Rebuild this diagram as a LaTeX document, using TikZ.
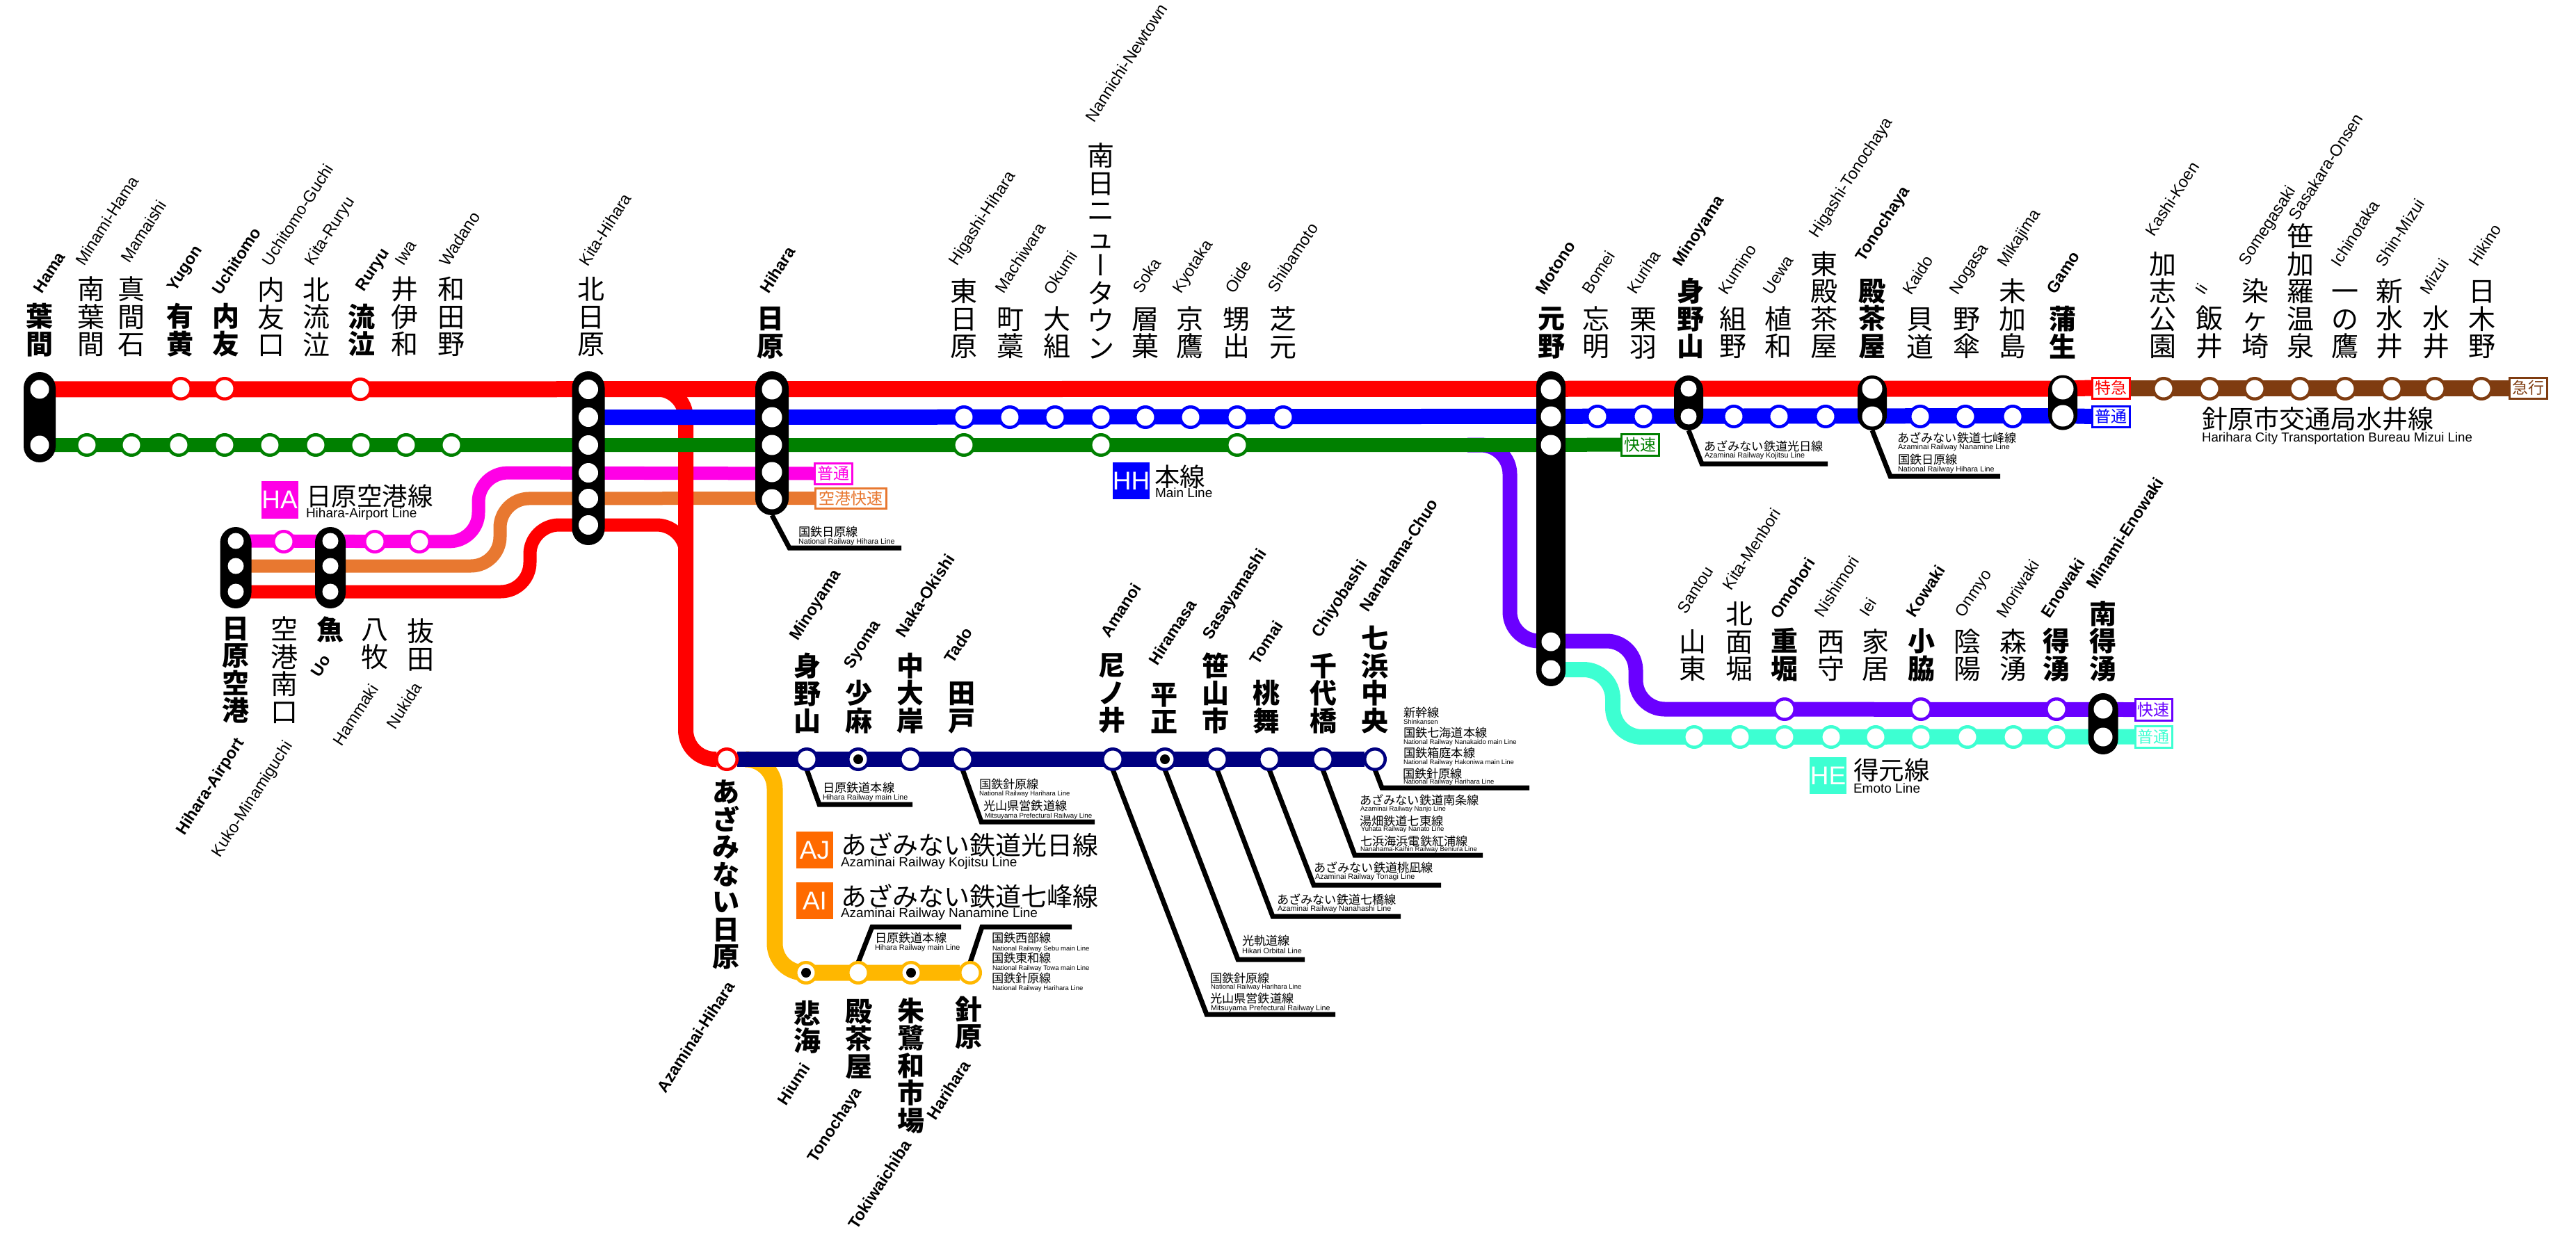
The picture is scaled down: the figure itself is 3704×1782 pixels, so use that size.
\documentclass[tikz,border=0pt]{standalone}
\usepackage{fontspec}
\setmainfont{Liberation Sans}
\newfontfamily\cjk{Noto Sans CJK JP}
\newfontface\cjkv[RawFeature={+vert}]{Noto Sans CJK JP}
\usetikzlibrary{backgrounds}
\definecolor{cred}{HTML}{FF0000}
\definecolor{cblue}{HTML}{0000FF}
\definecolor{cgreen}{HTML}{008000}
\definecolor{cmag}{HTML}{FF00E6}
\definecolor{corange}{HTML}{E87830}
\definecolor{cnavy}{HTML}{000080}
\definecolor{cyel}{HTML}{FFB700}
\definecolor{cbrown}{HTML}{7F3C10}
\definecolor{cpur}{HTML}{6A00FF}
\definecolor{cteal}{HTML}{3DFFD2}
\definecolor{corg}{HTML}{FF6A00}
\tikzset{
  rl/.style={line width=#1,line join=round},
  bendy/.style={rounded corners=42pt},
  ringn/.style={circle,fill=white,line width=4.5pt,minimum size=29.5pt,inner sep=0pt,outer sep=0pt},
  hole/.style={circle,fill=white,minimum size=#1,inner sep=0pt,outer sep=0pt},
  dotn/.style={circle,fill=black,minimum size=14pt,inner sep=0pt},
  pill/.style={fill=black,inner sep=0pt,outer sep=0pt},
  kana/.style={inner sep=0pt,outer sep=0pt,align=center,font=\cjk\fontsize{39}{39.5}\selectfont},
  kanab/.style={inner sep=0pt,outer sep=0pt,align=center,font=\cjk\bfseries\fontsize{39}{39.5}\selectfont},
  ename/.style={inner sep=0pt,outer sep=0pt,rotate=57,anchor=base west,font=\fontsize{23.5}{24}\selectfont},
  enameb/.style={inner sep=0pt,outer sep=0pt,rotate=57,anchor=base west,font=\bfseries\fontsize{23.5}{24}\selectfont},
  lab/.style={inner sep=0pt,outer sep=0pt,anchor=base west},
  kbox/.style={draw=#1,text=#1,fill=white,line width=3pt,inner sep=0pt,outer sep=0pt,font=\cjk\fontsize{23}{23}\selectfont},
  lbox/.style={fill=#1,text=white,minimum width=53pt,inner sep=0pt,outer sep=0pt,font=\fontsize{37}{37}\selectfont},
  leaderl/.style={line width=7pt,line join=miter}
}
\newcommand{\ks}[5]{\node[kana,anchor=#4] (k#1) at (#2,#3) {#5};}
\newcommand{\kb}[5]{\node[kanab,anchor=#4] (k#1) at (#2,#3) {#5};}
\newcommand{\es}[4]{\node[ename] (e#1) at (#2,#3) {#4};}
\newcommand{\eb}[4]{\node[enameb] (e#1) at (#2,#3) {#4};}
\newcommand{\rg}[4]{\node[ringn,draw=#4] (#1) at (#2,#3) {};}
\newcommand{\ho}[4]{\node[hole=#4] (#1) at (#2,#3) {};}
\newcommand{\pl}[6]{\node[pill,rounded corners=#6,minimum width=#4,minimum height=#5] (#1) at (#2,#3) {};}
\newcommand{\jl}[5]{\node[lab,font=\cjk\fontsize{#4}{#4}\selectfont] (#1) at (#2,#3) {#5};}
\newcommand{\el}[5]{\node[lab,font=\fontsize{#4}{#4}\selectfont] (#1) at (#2,#3) {#5};}
\newcommand{\ldr}[6]{\coordinate (#2a) at (#3,#4); \coordinate (#2b) at (#5,#4);
  \begin{pgfonlayer}{background}\draw[leaderl] (#1) -- (#6) -- (#2a) -- (#2b);\end{pgfonlayer}}
\begin{document}
\begin{tikzpicture}[x=1pt,y=-1pt]
\useasboundingbox (0,0) rectangle (3704,1782);
\begin{pgfonlayer}{background}\fill[white] (0,0) rectangle (3704,1782);\end{pgfonlayer}

% interchange pills
\pl{phama}{57}{600}{46pt}{130pt}{23pt}
\ho{hama1}{57}{560}{27pt}\ho{hama2}{57}{640}{27pt}
\pl{pkita}{846}{659}{47pt}{250pt}{23.5pt}
\ho{kita1}{846}{560}{28pt}\ho{kita2}{846}{600}{28pt}\ho{kita3}{846}{640}{28pt}\ho{kita4}{846}{680}{28pt}\ho{kita5}{846}{717}{28pt}\ho{kita6}{846}{755}{28pt}
\pl{phih}{1110}{637.5}{48pt}{207pt}{24pt}
\ho{hih1}{1110}{560}{29pt}\ho{hih2}{1110}{600}{29pt}\ho{hih3}{1110}{640}{29pt}\ho{hih4}{1110}{679}{29pt}\ho{hih5}{1110}{718}{29pt}
\pl{pair}{339}{816.5}{45pt}{117pt}{22.5pt}
\ho{air1}{339}{778}{23pt}\ho{air2}{339}{814}{23pt}\ho{air3}{339}{851}{23pt}
\pl{puo}{475}{816.5}{44pt}{117pt}{22pt}
\ho{uo1}{475}{778}{23pt}\ho{uo2}{475}{814}{23pt}\ho{uo3}{475}{851}{23pt}
\pl{pmot}{2230}{760.5}{42pt}{453pt}{21pt}
\ho{mot1}{2230}{560}{29pt}\ho{mot2}{2230}{599}{29pt}\ho{mot3}{2230}{640}{29pt}\ho{mot4}{2230}{923}{27pt}\ho{mot5}{2230}{963}{27pt}
\pl{pmin}{2428}{579.5}{42pt}{79pt}{21pt}
\ho{min1}{2428}{559}{23pt}\ho{min2}{2428}{599}{23pt}
\pl{pton}{2692}{579.5}{42pt}{79pt}{21pt}
\ho{ton1}{2692}{559}{29pt}\ho{ton2}{2692}{599}{29pt}
\pl{pgam}{2966}{579}{42pt}{79pt}{21pt}
\ho{gam1}{2966}{559}{31pt}\ho{gam2}{2966}{598}{31pt}
\pl{psou}{3024}{1041}{43pt}{88pt}{21.5pt}
\ho{sou1}{3024}{1020}{27pt}\ho{sou2}{3024}{1060}{27pt}

% rings: red
\rg{ry1}{260}{559}{cred}\rg{ry2}{323}{559}{cred}\rg{ry3}{518}{560}{cred}
% rings: green
\rg{g1}{125}{640}{cgreen}\rg{g2}{189}{640}{cgreen}\rg{g3}{257}{640}{cgreen}\rg{g4}{323}{640}{cgreen}\rg{g5}{388}{640}{cgreen}\rg{g6}{454}{640}{cgreen}\rg{g7}{519}{640}{cgreen}\rg{g8}{584}{640}{cgreen}\rg{g9}{649}{640}{cgreen}
\rg{g10}{1386}{640}{cgreen}\rg{g11}{1583}{640}{cgreen}\rg{g12}{1779}{640}{cgreen}
% rings: blue
\rg{b1}{1386}{600}{cblue}\rg{b2}{1452}{600}{cblue}\rg{b3}{1517}{600}{cblue}\rg{b4}{1583}{600}{cblue}\rg{b5}{1647}{600}{cblue}\rg{b6}{1712}{600}{cblue}\rg{b7}{1779}{600}{cblue}\rg{b8}{1845}{600}{cblue}
\rg{b9}{2297}{599}{cblue}\rg{b10}{2363}{599}{cblue}\rg{b11}{2493}{599}{cblue}\rg{b12}{2558}{599}{cblue}\rg{b13}{2625}{599}{cblue}\rg{b14}{2761}{599}{cblue}\rg{b15}{2826}{599}{cblue}\rg{b16}{2894}{599}{cblue}
% rings: magenta
\rg{m1}{408}{779}{cmag}\rg{m2}{539}{779}{cmag}\rg{m3}{603}{779}{cmag}
% rings: brown
\rg{br1}{3111}{559}{cbrown}\rg{br2}{3177}{559}{cbrown}\rg{br3}{3242}{559}{cbrown}\rg{br4}{3307}{559}{cbrown}\rg{br5}{3372}{559}{cbrown}\rg{br6}{3439}{559}{cbrown}\rg{br7}{3501}{559}{cbrown}\rg{br8}{3568}{559}{cbrown}
% rings: purple and teal
\rg{p1}{2566}{1020}{cpur}\rg{p2}{2762}{1020}{cpur}\rg{p3}{2957}{1020}{cpur}
\rg{t1}{2436}{1060}{cteal}\rg{t2}{2502}{1060}{cteal}\rg{t3}{2566}{1060}{cteal}\rg{t4}{2633}{1060}{cteal}\rg{t5}{2697}{1060}{cteal}\rg{t6}{2762}{1060}{cteal}\rg{t7}{2829}{1060}{cteal}\rg{t8}{2895}{1060}{cteal}\rg{t9}{2957}{1060}{cteal}
% rings: navy
\rg{azh}{1045}{1092}{cred}
\rg{n1}{1160}{1092}{cnavy}\rg{n2}{1234}{1092}{cnavy}\rg{n3}{1309}{1092}{cnavy}\rg{n4}{1384}{1092}{cnavy}\rg{n5}{1600}{1092}{cnavy}\rg{n6}{1675}{1092}{cnavy}\rg{n7}{1750}{1092}{cnavy}\rg{n8}{1825}{1092}{cnavy}\rg{n9}{1902}{1092}{cnavy}\rg{n10}{1977}{1092}{cnavy}
\node[dotn] (nd2) at (n2) {};\node[dotn] (nd6) at (n6) {};
% rings: yellow
\rg{y1}{1159}{1399}{cyel}\rg{y2}{1234}{1399}{cyel}\rg{y3}{1310}{1399}{cyel}\rg{y4}{1395}{1399}{cyel}
\node[dotn] (yd1) at (y1) {};\node[dotn] (yd3) at (y3) {};

% service boxes
\node[kbox=cmag,minimum width=54pt,minimum height=30pt] (bxa) at (1198,681) {普通};
\node[kbox=corange,minimum width=102pt,minimum height=29pt] (bxb) at (1223,716.5) {空港快速};
\node[kbox=cgreen,minimum width=54pt,minimum height=31pt] (bxc) at (2358,639.5) {快速};
\node[kbox=cred,minimum width=54pt,minimum height=30pt] (bxd) at (3035,558) {特急};
\node[kbox=cblue,minimum width=54pt,minimum height=30pt] (bxe) at (3035,599) {普通};
\node[kbox=cbrown,minimum width=54pt,minimum height=30pt] (bxf) at (3635,558) {急行};
\node[kbox=cpur,minimum width=53pt,minimum height=31pt] (bxg) at (3096.5,1020.5) {快速};
\node[kbox=cteal,minimum width=53pt,minimum height=31pt] (bxh) at (3096.5,1059.5) {普通};

% bend points
\coordinate (mg1) at (688,779);\coordinate (mg2) at (688,680);
\coordinate (or1) at (719,814);\coordinate (or2) at (719,717);
\coordinate (rd1) at (762,851);\coordinate (rd2) at (762,755);\coordinate (rd3) at (986,755);\coordinate (rd4) at (986,1092);\coordinate (rd5) at (986,559);\coordinate (rd6) at (986,840);
\coordinate (ye0) at (1072,1092);\coordinate (ye1) at (1114,1092);\coordinate (ye2) at (1114,1399);
\coordinate (pu0) at (2110,640);\coordinate (pu1) at (2171,640);\coordinate (pu2) at (2171,922);\coordinate (pu3) at (2352,922);\coordinate (pu4) at (2352,1020);
\coordinate (te1) at (2319,963);\coordinate (te2) at (2319,1060);

\begin{pgfonlayer}{background}
\draw[rl=23pt,cyel,bendy] (ye0) -- (ye1) -- (ye2) -- (y4);
\draw[rl=22pt,cnavy] (azh) -- (n10);
\draw[rl=19pt,cmag,bendy] (air1) -- (mg1) -- (mg2) -- (bxa.west);
\draw[rl=19pt,corange,bendy] (air2) -- (or1) -- (or2) -- (bxb.west);
\draw[rl=19pt,cred,bendy] (air3) -- (rd1) -- (rd2) -- (rd3) -- (rd6);
\draw[rl=22pt,cred,bendy] (kita1) -- (rd5) -- (rd4) -- (azh);
\draw[rl=21pt,cpur,bendy] (pu0) -- (pu1) -- (pu2) -- (pu3) -- (pu4) -- (bxg.west);
\draw[rl=22pt,cteal,bendy] (mot5) -- (te1) -- (te2) -- (bxh.west);
\draw[rl=23pt,cred] (hama1) -- (gam1) -- (bxd.west);
\draw[rl=22pt,cblue] (kita2) -- (hih2) -- (gam2) -- (bxe.west);
\draw[rl=20pt,cgreen] (hama2) -- (mot3) -- (bxc.west);
\draw[rl=23pt,cbrown] (bxd.east) -- (bxf.west);
\end{pgfonlayer}

% leaders
\coordinate (q1) at (2447,667);\ldr{pmin.south}{l1}{2447}{667}{2628}{q1}
\coordinate (q2) at (2718,685);\ldr{pton.south}{l2}{2718}{685}{2876}{q2}
\coordinate (q3) at (1135,788);\ldr{phih.south}{l3}{1135}{788}{1296}{q3}
\coordinate (q4) at (1178,1157);\ldr{n1.south}{l4}{1178}{1157}{1312}{q4}
\coordinate (q5) at (1411,1182);\ldr{n4.south}{l5}{1411}{1182}{1574}{q5}
\coordinate (q6) at (1735,1459);\ldr{n5.south}{l6}{1735}{1459}{1920}{q6}
\coordinate (q7) at (1780,1380);\ldr{n6.south}{l7}{1780}{1380}{1876}{q7}
\coordinate (q8) at (1830,1318);\ldr{n7.south}{l8}{1830}{1318}{2014}{q8}
\coordinate (q9) at (1889,1273);\ldr{n8.south}{l9}{1889}{1273}{2072}{q9}
\coordinate (q10) at (1948,1230);\ldr{n9.south}{l10}{1948}{1230}{2132}{q10}
\coordinate (q11) at (1987,1133);\ldr{n10.south}{l11}{1987}{1133}{2199}{q11}
\coordinate (q12) at (1254,1333);\ldr{y2.north}{l12}{1254}{1333}{1382}{q12}
\coordinate (q13) at (1412,1333);\ldr{y4.north}{l13}{1412}{1333}{1541}{q13}

% line titles
\node[lbox=cmag,minimum height=54pt] (ha) at (402,719) {HA};
\jl{ha1}{440}{727}{36.5}{日原空港線}\el{ha2}{440}{744}{19}{Hihara-Airport Line}
\node[lbox=cblue,minimum height=53pt] (hh) at (1626.5,691.5) {HH};
\jl{hh1}{1660}{699}{36.5}{本線}\el{hh2}{1661}{715}{19}{Main Line}
\jl{mz1}{3166}{616}{37}{針原市交通局水井線}\el{mz2}{3166}{635}{18.7}{Harihara City Transportation Bureau Mizui Line}
\node[lbox=cteal,minimum height=53pt] (he) at (2628.5,1115.5) {HE};
\jl{he1}{2665}{1121}{36.5}{得元線}\el{he2}{2665}{1140}{19}{Emoto Line}
\node[lbox=corg,minimum height=53pt] (aj) at (1171.5,1222.5) {AJ};
\jl{aj1}{1209}{1229}{37}{あざみない鉄道光日線}\el{aj2}{1209}{1246}{19}{Azaminai Railway Kojitsu Line}
\node[lbox=corg,minimum height=53pt] (ai) at (1171.5,1295.5) {AI};
\jl{ai1}{1209}{1303}{37}{あざみない鉄道七峰線}\el{ai2}{1209}{1319}{19}{Azaminai Railway Nanamine Line}

% transfer labels
\jl{x1}{2450}{648}{17.2}{あざみない鉄道光日線}\el{x2}{2451}{658}{10.8}{Azaminai Railway Kojitsu Line}
\jl{x3}{2728}{636}{17.2}{あざみない鉄道七峰線}\el{x4}{2729}{646}{10.8}{Azaminai Railway Nanamine Line}
\jl{x5}{2729}{667}{17.2}{国鉄日原線}\el{x6}{2729}{678}{10.8}{National Railway Hihara Line}
\jl{x7}{1148}{771}{17.2}{国鉄日原線}\el{x8}{1148}{782}{10.8}{National Railway Hihara Line}
\jl{x9}{1183}{1139}{17.2}{日原鉄道本線}\el{x10}{1183}{1150}{10.8}{Hihara Railway main Line}
\jl{x11}{1408}{1134}{17.2}{国鉄針原線}\el{x12}{1408}{1144}{9.5}{National Railway Harihara Line}
\jl{x13}{1414}{1165}{17.2}{光山県営鉄道線}\el{x14}{1416}{1176}{9.7}{Mitsuyama Prefectural Railway Line}
\jl{x15}{1258}{1355}{17.2}{日原鉄道本線}\el{x16}{1258}{1366}{10.8}{Hihara Railway main Line}
\jl{x17}{1426}{1355}{17.2}{国鉄西部線}\el{x18}{1427}{1367}{9.5}{National Railway Sebu main Line}
\jl{x19}{1426}{1384}{17.2}{国鉄東和線}\el{x20}{1427}{1395}{9.5}{National Railway Towa main Line}
\jl{x21}{1426}{1413}{17.2}{国鉄針原線}\el{x22}{1427}{1424}{9.5}{National Railway Harihara Line}
\jl{x23}{1740}{1413}{17.2}{国鉄針原線}\el{x24}{1741}{1422}{9.5}{National Railway Harihara Line}
\jl{x25}{1740}{1442}{17.2}{光山県営鉄道線}\el{x26}{1741}{1453}{10.8}{Mitsuyama Prefectural Railway Line}
\jl{x27}{1786}{1359}{17.2}{光軌道線}\el{x28}{1786}{1371}{10.8}{Hikari Orbital Line}
\jl{x29}{1836}{1300}{17.2}{あざみない鉄道七橋線}\el{x30}{1837}{1310}{10.8}{Azaminai Railway Nanahashi Line}
\jl{x31}{1889}{1254}{17.2}{あざみない鉄道桃凪線}\el{x32}{1891}{1264}{10.8}{Azaminai Railway Tonagi Line}
\jl{x33}{1955}{1157}{17.2}{あざみない鉄道南条線}\el{x34}{1956}{1166}{9.5}{Azaminai Railway Nanjo Line}
\jl{x35}{1955}{1187}{17.2}{湯畑鉄道七東線}\el{x36}{1957}{1195}{9.5}{Yuhata Railway Nanato Line}
\jl{x37}{1956}{1216}{17.2}{七浜海浜電鉄紅浦線}\el{x38}{1956}{1224}{9.5}{Nanahama-Kaihin Railway Beniura Line}
\jl{x39}{2018}{1031}{17.2}{新幹線}\el{x40}{2018}{1041}{9.5}{Shinkansen}
\jl{x41}{2018}{1060}{17.2}{国鉄七海道本線}\el{x42}{2018}{1070}{9.5}{National Railway Nanakaido main Line}
\jl{x43}{2018}{1089}{17.2}{国鉄箱庭本線}\el{x44}{2018}{1099}{9.5}{National Railway Hakoniwa main Line}
\jl{x45}{2017}{1119}{17.2}{国鉄針原線}\el{x46}{2018}{1127}{9.5}{National Railway Harihara Line}

% station names: top row, west
\kb{hama}{57}{513}{south}{葉\\間}\eb{hama}{60}{423}{Hama}
\ks{mham}{131}{513}{south}{南\\葉\\間}\es{mham}{121}{383}{Minami-Hama}
\ks{mama}{189}{513}{south}{真\\間\\石}\es{mama}{186}{379}{Mamaishi}
\kb{yugo}{259}{513}{south}{有\\黄}\eb{yugo}{252}{420}{Yugon}
\kb{uchi}{325}{513}{south}{内\\友}\eb{uchi}{317}{425}{Uchitomo}
\ks{uchg}{390}{513}{south}{内\\友\\口}\es{uchg}{389}{384}{Uchitomo-Guchi}
\ks{kiru}{455}{513}{south}{北\\流\\泣}\es{kiru}{450}{383}{Kita-Ruryu}
\kb{ruru}{520}{513}{south}{流\\泣}\eb{ruru}{523}{420}{Ruryu}
\ks{iwaa}{582}{513}{south}{井\\伊\\和}\es{iwaa}{580}{383}{Iwa}
\ks{wada}{649}{513}{south}{和\\田\\野}\es{wada}{644}{384}{Wadano}
\ks{kith}{850}{513}{south}{北\\日\\原}\es{kith}{845}{384}{Kita-Hihara}
\kb{hiha}{1108}{516}{south}{日\\原}\eb{hiha}{1105}{423}{Hihara}
\ks{higa}{1386}{516}{south}{東\\日\\原}\es{higa}{1376}{383}{Higashi-Hihara}
\ks{machi}{1453}{516}{south}{町\\藁}\es{machi}{1443}{423}{Machiwara}
\ks{okum}{1520}{516}{south}{大\\組}\es{okum}{1513}{425}{Okumi}
\ks{nann}{1583}{516}{south}{南\\日\\ニ\\ュ\\{\cjkv ー}\\タ\\ウ\\ン}\es{nann}{1573}{177}{Nannichi-Newtown}
\ks{soka}{1647}{516}{south}{層\\菓}\es{soka}{1641}{423}{Soka}
\ks{kyot}{1711}{516}{south}{京\\鷹}\es{kyot}{1698}{423}{Kyotaka}
\ks{oide}{1778}{516}{south}{甥\\出}\es{oide}{1774}{423}{Oide}
\ks{shib}{1845}{516}{south}{芝\\元}\es{shib}{1835}{422}{Shibamoto}
% top row, east
\kb{moto}{2231}{516}{south}{元\\野}\eb{moto}{2220}{425}{Motono}
\ks{bome}{2295}{516}{south}{忘\\明}\es{bome}{2287}{424}{Bomei}
\ks{kuri}{2363}{516}{south}{栗\\羽}\es{kuri}{2352}{424}{Kuriha}
\kb{mino}{2431}{516}{south}{身\\野\\山}\eb{mino}{2417}{384}{Minoyama}
\ks{kumi}{2492}{516}{south}{組\\野}\es{kumi}{2483}{425}{Kumino}
\ks{uewa}{2557}{516}{south}{植\\和}\es{uewa}{2547}{425}{Uewa}
\ks{htoc}{2623}{516}{south}{東\\殿\\茶\\屋}\es{htoc}{2613}{343}{Higashi-Tonochaya}
\kb{toch}{2692}{516}{south}{殿\\茶\\屋}\eb{toch}{2680}{377}{Tonochaya}
\ks{kaid}{2761}{516}{south}{貝\\道}\es{kaid}{2748}{425}{Kaido}
\ks{noga}{2828}{516}{south}{野\\傘}\es{noga}{2815}{425}{Nogasa}
\ks{mika}{2894}{516}{south}{未\\加\\島}\es{mika}{2884}{385}{Mikajima}
\kb{gamo}{2966}{516}{south}{蒲\\生}\eb{gamo}{2955}{424}{Gamo}
\ks{kash}{3110}{516}{south}{加\\志\\公\\園}\es{kash}{3097}{341}{Kashi-Koen}
\ks{iiii}{3177}{516}{south}{飯\\井}\es{iiii}{3169}{425}{Ii}
\ks{some}{3243}{516}{south}{染\\ヶ\\埼}\es{some}{3231}{383}{Somegasaki}
\ks{sasa}{3308}{516}{south}{笹\\加\\羅\\温\\泉}\es{sasa}{3303}{318}{Sasakara-Onsen}
\ks{ichi}{3372}{516}{south}{一\\の\\鷹}\es{ichi}{3364}{385}{Ichinotaka}
\ks{shin}{3436}{516}{south}{新\\水\\井}\es{shin}{3428}{385}{Shin-Mizui}
\ks{mizu}{3503}{516}{south}{水\\井}\es{mizu}{3492}{425}{Mizui}
\ks{hiki}{3569}{516}{south}{日\\木\\野}\es{hiki}{3562}{384}{Hikino}
% airport branch
\kb{airp}{339}{887}{north}{日\\原\\空\\港}\eb{airp}{265}{1202}{Hihara-Airport}
\ks{kuko}{409}{887}{north}{空\\港\\南\\口}\es{kuko}{316}{1234}{Kuko-Minamiguchi}
\kb{uoo}{475}{887}{north}{魚}\eb{uoo}{459}{975}{Uo}
\ks{hamm}{539}{890}{north}{八\\牧}\es{hamm}{491}{1074}{Hammaki}
\ks{nuki}{605}{890}{north}{抜\\田}\es{nuki}{568}{1050}{Nukida}
% navy branch
\kb{smin}{1161}{1055}{south}{身\\野\\山}\eb{smin}{1147}{922}{Minoyama}
\kb{syom}{1235}{1055}{south}{少\\麻}\eb{syom}{1225}{963}{Syoma}
\kb{naka}{1309}{1055}{south}{中\\大\\岸}\eb{naka}{1300}{918}{Naka-Okishi}
\kb{tado}{1383}{1055}{south}{田\\戸}\eb{tado}{1370}{955}{Tado}
\kb{aman}{1599}{1055}{south}{尼\\ノ\\井}\eb{aman}{1595}{918}{Amanoi}
\kb{hira}{1674}{1055}{south}{平\\正}\eb{hira}{1664}{958}{Hiramasa}
\kb{ssym}{1748}{1055}{south}{笹\\山\\市}\eb{ssym}{1741}{921}{Sasayamashi}
\kb{toma}{1821}{1055}{south}{桃\\舞}\eb{toma}{1809}{957}{Tomai}
\kb{chiy}{1903}{1055}{south}{千\\代\\橋}\eb{chiy}{1898}{918}{Chiyobashi}
\kb{nana}{1977}{1055}{south}{七\\浜\\中\\央}\eb{nana}{1967}{881}{Nanahama-Chuo}
% yellow branch
\kb{azmh}{1044}{1122}{north}{あ\\ざ\\み\\な\\い\\日\\原}\eb{azmh}{957}{1573}{Azaminai-Hihara}
\kb{hium}{1161}{1439}{north}{悲\\海}\eb{hium}{1130}{1591}{Hiumi}
\kb{ytoc}{1235}{1437}{north}{殿\\茶\\屋}\eb{ytoc}{1173}{1673}{Tonochaya}
\kb{toki}{1310}{1435}{north}{朱\\鷺\\和\\市\\場}\eb{toki}{1232}{1769}{Tokiwaichiba}
\kb{hari}{1393}{1433}{north}{針\\原}\eb{hari}{1345}{1612}{Harihara}
% emoto branch
\ks{sant}{2434}{980}{south}{山\\東}\es{sant}{2424}{884}{Santou}
\ks{kmen}{2501}{980}{south}{北\\面\\堀}\es{kmen}{2489}{850}{Kita-Menbori}
\kb{omoh}{2566}{980}{south}{重\\堀}\eb{omoh}{2558}{891}{Omohori}
\ks{nish}{2633}{980}{south}{西\\守}\es{nish}{2621}{889}{Nishimori}
\ks{ieii}{2697}{980}{south}{家\\居}\es{ieii}{2686}{888}{Iei}
\kb{kowa}{2763}{980}{south}{小\\脇}\eb{kowa}{2753}{889}{Kowaki}
\ks{onmy}{2829}{980}{south}{陰\\陽}\es{onmy}{2823}{889}{Onmyo}
\ks{mori}{2895}{980}{south}{森\\湧}\es{mori}{2883}{890}{Moriwaki}
\kb{enow}{2957}{980}{south}{得\\湧}\eb{enow}{2947}{890}{Enowaki}
\kb{mien}{3024}{980}{south}{南\\得\\湧}\eb{mien}{3012}{848}{Minami-Enowaki}
\end{tikzpicture}
\end{document}
